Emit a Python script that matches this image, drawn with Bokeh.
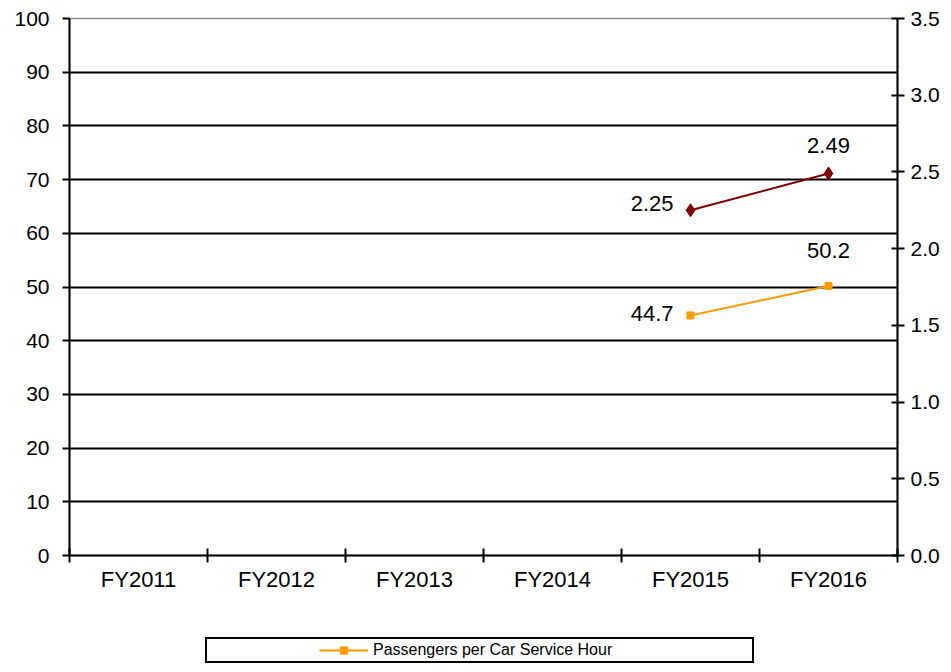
from bokeh.plotting import figure
from bokeh.layouts import column
from bokeh.models import (Range1d, LinearAxis, FixedTicker, Legend, LegendItem,
                          ColumnDataSource, NumeralTickFormatter)
from bokeh.core.properties import value
from bokeh.embed import file_html
from bokeh.resources import INLINE

# ---- data ----
categories = ["FY2011", "FY2012", "FY2013", "FY2014", "FY2015", "FY2016"]
passenger_years = ["FY2015", "FY2016"]
passengers_per_hour = [44.7, 50.2]
ratio_years = ["FY2015", "FY2016"]
ratio_values = [2.25, 2.49]
left_ticks = [0, 10, 20, 30, 40, 50, 60, 70, 80, 90, 100]
right_ticks = [0.0, 0.5, 1.0, 1.5, 2.0, 2.5, 3.0, 3.5]
legend_label = "Passengers per Car Service Hour"

# ---- style ----
FONT = "Liberation Sans"
ORANGE = "#FF9900"
DARKRED = "#800000"
YTICK_FS = "21px"
XTICK_FS = "22px"
LABEL_FS = "22px"
W = 943


def xpos(cats):
    return [categories.index(c) + 0.5 for c in cats]


p = figure(width=W, height=624, output_backend="svg", toolbar_location=None,
           x_range=Range1d(0, len(categories)), y_range=Range1d(left_ticks[0], left_ticks[-1]),
           min_border_left=69, min_border_right=46, min_border_top=18, min_border_bottom=69,
           background_fill_color="white", border_fill_color="white")
p.extra_y_ranges = {"right": Range1d(right_ticks[0], right_ticks[-1])}

p.outline_line_color = "#8c8c8c"
p.outline_line_width = 1.5

# grid
p.xgrid.visible = False
p.ygrid.ticker = FixedTicker(ticks=left_ticks[1:-1])
p.ygrid.grid_line_color = "black"
p.ygrid.grid_line_width = 2

# x axis: labels at centres, tick marks at category boundaries
xa = p.xaxis[0]
centres = [i + 0.5 for i in range(len(categories))]
xa.ticker = FixedTicker(ticks=centres, minor_ticks=list(range(len(categories) + 1)))
xa.major_label_overrides = {c: lab for c, lab in zip(centres, categories)}
xa.major_tick_line_color = None
xa.major_tick_in = 0
xa.major_tick_out = 7
xa.minor_tick_in = 7
xa.minor_tick_out = 7
xa.minor_tick_line_color = "black"
xa.minor_tick_line_width = 2
xa.axis_line_color = "black"
xa.axis_line_width = 2
xa.major_label_standoff = 4
xa.major_label_text_font = FONT
xa.major_label_text_font_size = XTICK_FS
xa.major_label_text_color = "black"

# left axis
ya = p.yaxis[0]
ya.ticker = FixedTicker(ticks=left_ticks)
ya.major_tick_in = 0
ya.major_tick_out = 7
ya.major_tick_line_width = 2
ya.axis_line_width = 2
ya.axis_line_color = "black"
ya.major_label_standoff = 13
ya.major_label_text_font = FONT
ya.major_label_text_font_size = YTICK_FS
ya.major_label_text_color = "black"

# right axis
ra = LinearAxis(y_range_name="right", ticker=FixedTicker(ticks=right_ticks),
                formatter=NumeralTickFormatter(format="0.0"))
ra.major_tick_in = 6
ra.major_tick_out = 7
ra.major_tick_line_width = 2
ra.axis_line_width = 2
ra.axis_line_color = "black"
ra.major_label_standoff = 6
ra.major_label_text_font = FONT
ra.major_label_text_font_size = YTICK_FS
ra.major_label_text_color = "black"
p.add_layout(ra, "right")

# series: passengers per car service hour (left axis)
px = xpos(passenger_years)
src_p = ColumnDataSource(dict(x=px, y=passengers_per_hour))
p.line("x", "y", source=src_p, line_color=ORANGE, line_width=2)
p.scatter("x", "y", source=src_p, marker="square", size=7,
          fill_color=ORANGE, line_color=ORANGE)

# series: ratio (right axis)
rx = xpos(ratio_years)
src_r = ColumnDataSource(dict(x=rx, y=ratio_values))
p.line("x", "y", source=src_r, line_color=DARKRED, line_width=2, y_range_name="right")
p.scatter("x", "y", source=src_r, marker="diamond", size=13,
          fill_color=DARKRED, line_color=DARKRED, y_range_name="right")

text_kw = dict(text_font=value(FONT), text_font_size=LABEL_FS, text_color="black",
               text_baseline="alphabetic")

# first-point labels: to the left of the point
p.text(x=px[:1], y=passengers_per_hour[:1], text=[f"{passengers_per_hour[0]:.1f}"],
       text_align="right", x_offset=-17, y_offset=-2, **text_kw)
p.text(x=rx[:1], y=ratio_values[:1], text=[f"{ratio_values[0]:.2f}"],
       text_align="right", x_offset=-17, y_offset=-7, y_range_name="right", **text_kw)

# last-point labels: above the point
p.text(x=px[-1:], y=passengers_per_hour[-1:], text=[f"{passengers_per_hour[-1]:.1f}"],
       text_align="center", y_offset=-35, **text_kw)
p.text(x=rx[-1:], y=ratio_values[-1:], text=[f"{ratio_values[-1]:.2f}"],
       text_align="center", y_offset=-28, y_range_name="right", **text_kw)

# ---- legend strip below the chart ----
# (the legend's renderers share the series data but lie outside this strip's ranges)
lg = figure(width=W, height=40, output_backend="svg", toolbar_location=None,
            x_range=Range1d(-10, -9), y_range=Range1d(-10, -9),
            x_axis_location=None, y_axis_location=None,
            min_border_left=0, min_border_right=0, min_border_top=0, min_border_bottom=0,
            background_fill_color="white", border_fill_color="white")
lg.outline_line_color = None
lg.xgrid.visible = False
lg.ygrid.visible = False
lg_line = lg.line("x", "y", source=src_p, line_color=ORANGE, line_width=2)
lg_mark = lg.scatter("x", "y", source=src_p, marker="square", size=7,
                     fill_color=ORANGE, line_color=ORANGE)
sp1 = lg.line("x", "y", source=src_p, line_alpha=0)
sp2 = lg.line("x", "y", source=src_p, line_alpha=0)
legend = Legend(items=[LegendItem(label="\u2003", renderers=[sp1]),
                       LegendItem(label=legend_label, renderers=[lg_line, lg_mark]),
                       LegendItem(label="\u2003\u2003\u2003", renderers=[sp2])],
                orientation="horizontal", location=(136, 1), margin=0,
                padding=2, spacing=36, glyph_width=49, glyph_height=18,
                label_standoff=5, label_width=20, label_height=18,
                label_text_font=FONT, label_text_font_size="16px", label_text_color="black",
                border_line_color="black", border_line_width=2, border_line_alpha=1.0,
                background_fill_color="white", background_fill_alpha=1.0)
lg.add_layout(legend, "center")

layout = column(p, lg, spacing=0)
open("out.html", "w").write(file_html(layout, INLINE))
